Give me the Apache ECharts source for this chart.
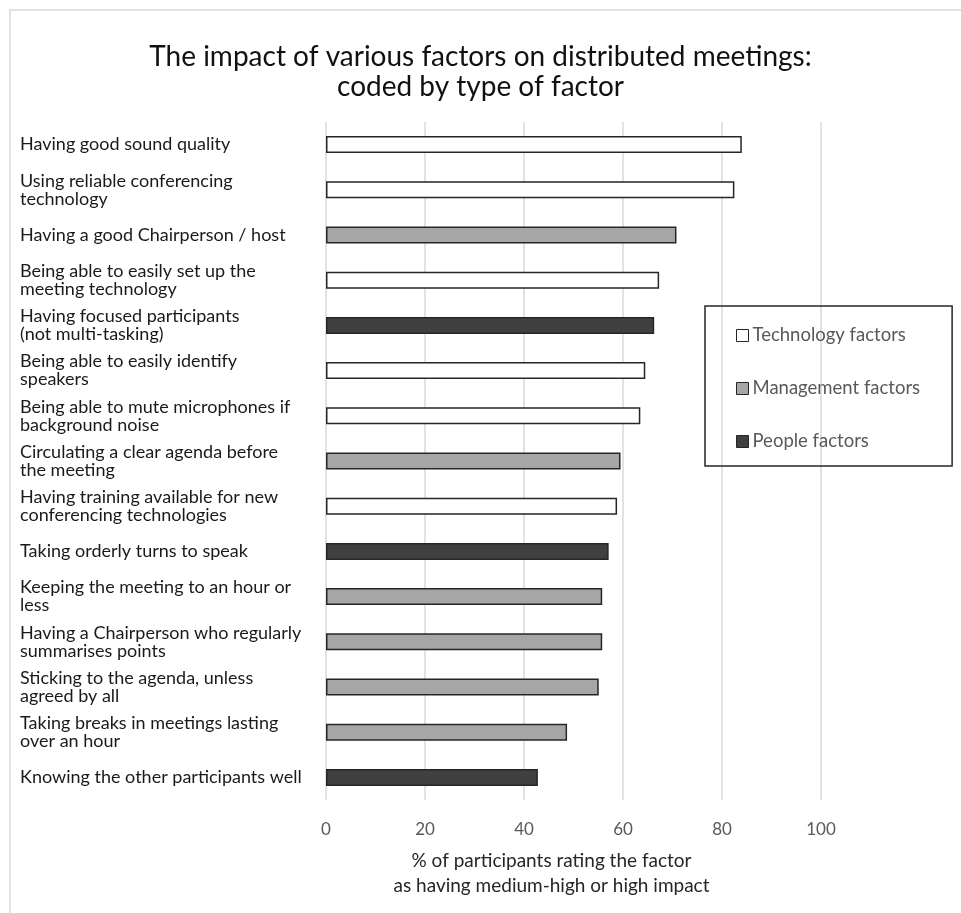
<!DOCTYPE html>
<html>
<head>
<meta charset="utf-8">
<script src="https://cdn.jsdelivr.net/npm/echarts@6/dist/echarts.min.js"></script>
<style>
	html,body{margin:0;padding:0;background:#fff;}
	#chart{width:961px;height:913px;}
</style>
</head>
<body>
<div id="chart"></div>
<script>
	// factors, top to bottom
	var factors = [
		'Having good sound quality',
		'Using reliable conferencing\ntechnology',
		'Having a good Chairperson / host',
		'Being able to easily set up the\nmeeting technology',
		'Having focused participants\n(not multi-tasking)',
		'Being able to easily identify\nspeakers',
		'Being able to mute microphones if\nbackground noise',
		'Circulating a clear agenda before\nthe meeting',
		'Having training available for new\nconferencing technologies',
		'Taking orderly turns to speak',
		'Keeping the meeting to an hour or\nless',
		'Having a Chairperson who regularly\nsummarises points',
		'Sticking to the agenda, unless\nagreed by all',
		'Taking breaks in meetings lasting\nover an hour',
		'Knowing the other participants well'
	];
	var values = [84.0, 82.5, 70.8, 67.3, 66.3, 64.5, 63.5, 59.5, 58.8, 57.1, 55.8, 55.8, 55.1, 48.7, 42.8];
	var factorType = ['Technology factors', 'Technology factors', 'Management factors', 'Technology factors', 'People factors',
		'Technology factors', 'Technology factors', 'Management factors', 'Technology factors', 'People factors',
		'Management factors', 'Management factors', 'Management factors', 'Management factors', 'People factors'];
	var typeNames = ['Technology factors', 'Management factors', 'People factors'];
	var typeColors = ['#ffffff', '#a6a6a6', '#404040'];
	var xTicks = [0, 20, 40, 60, 80, 100];

	var chart = echarts.init(document.getElementById('chart'));

	var series = typeNames.map(function (name, k) {
		return {
			name: name,
			type: 'bar',
			stack: 'all',
			barWidth: 17,
			itemStyle: {color: typeColors[k], borderColor: '#262626', borderWidth: 1.5},
			data: values.map(function (v, i) { return factorType[i] === name ? v : '-'; })
		};
	});

	var option = {
		animation: false,
		backgroundColor: '#fff',
		textStyle: {fontFamily: 'Lato'},
		title: {
			text: 'The impact of various factors on distributed meetings:\ncoded by type of factor',
			left: 'center',
			top: 37,
			textStyle: {fontFamily: 'Lato', fontSize: 28, fontWeight: 'normal', color: '#111', lineHeight: 30}
		},
		graphic: [{
			type: 'rect',
			shape: {x: 10, y: 10, width: 1000, height: 1000},
			style: {fill: null, stroke: '#d9d9d9', lineWidth: 1.5},
			silent: true
		}],
		legend: {
			orient: 'vertical',
			left: 705,
			top: 306,
			data: typeNames,
			icon: 'rect',
			itemWidth: 12,
			itemHeight: 12,
			itemGap: 34,
			padding: [20, 32, 15, 31],
			borderColor: '#262626',
			borderWidth: 1.5,
			textStyle: {fontFamily: 'Lato', fontSize: 18.5, color: '#595959', padding: [0, 0, 0, -1]},
			itemStyle: {borderColor: '#262626', borderWidth: 1}
		},
		grid: {left: 326, right: 140, top: 122, bottom: 113},
		xAxis: {
			type: 'value',
			min: 0,
			max: 100,
			interval: 20,
			axisLine: {show: false},
			axisTick: {show: false},
			splitLine: {lineStyle: {color: '#d9d9d9', width: 1.5}},
			axisLabel: {fontFamily: 'Lato', fontSize: 17, color: '#595959', margin: 21,
				formatter: function (v) { return xTicks.indexOf(v) >= 0 ? String(v) : ''; }},
			name: '% of participants rating the factor\nas having medium-high or high impact',
			nameLocation: 'middle',
			nameGap: 48,
			nameTextStyle: {fontFamily: 'Lato', fontSize: 19, color: '#262626', lineHeight: 25, padding: [0, 44, 0, 0]}
		},
		yAxis: {
			type: 'category',
			inverse: true,
			data: factors,
			axisLine: {show: false},
			axisTick: {show: false},
			axisLabel: {align: 'left', margin: 306, fontFamily: 'Lato', fontSize: 18, color: '#1a1a1a', lineHeight: 18}
		},
		series: series
	};
	chart.setOption(option);
</script>
</body>
</html>
